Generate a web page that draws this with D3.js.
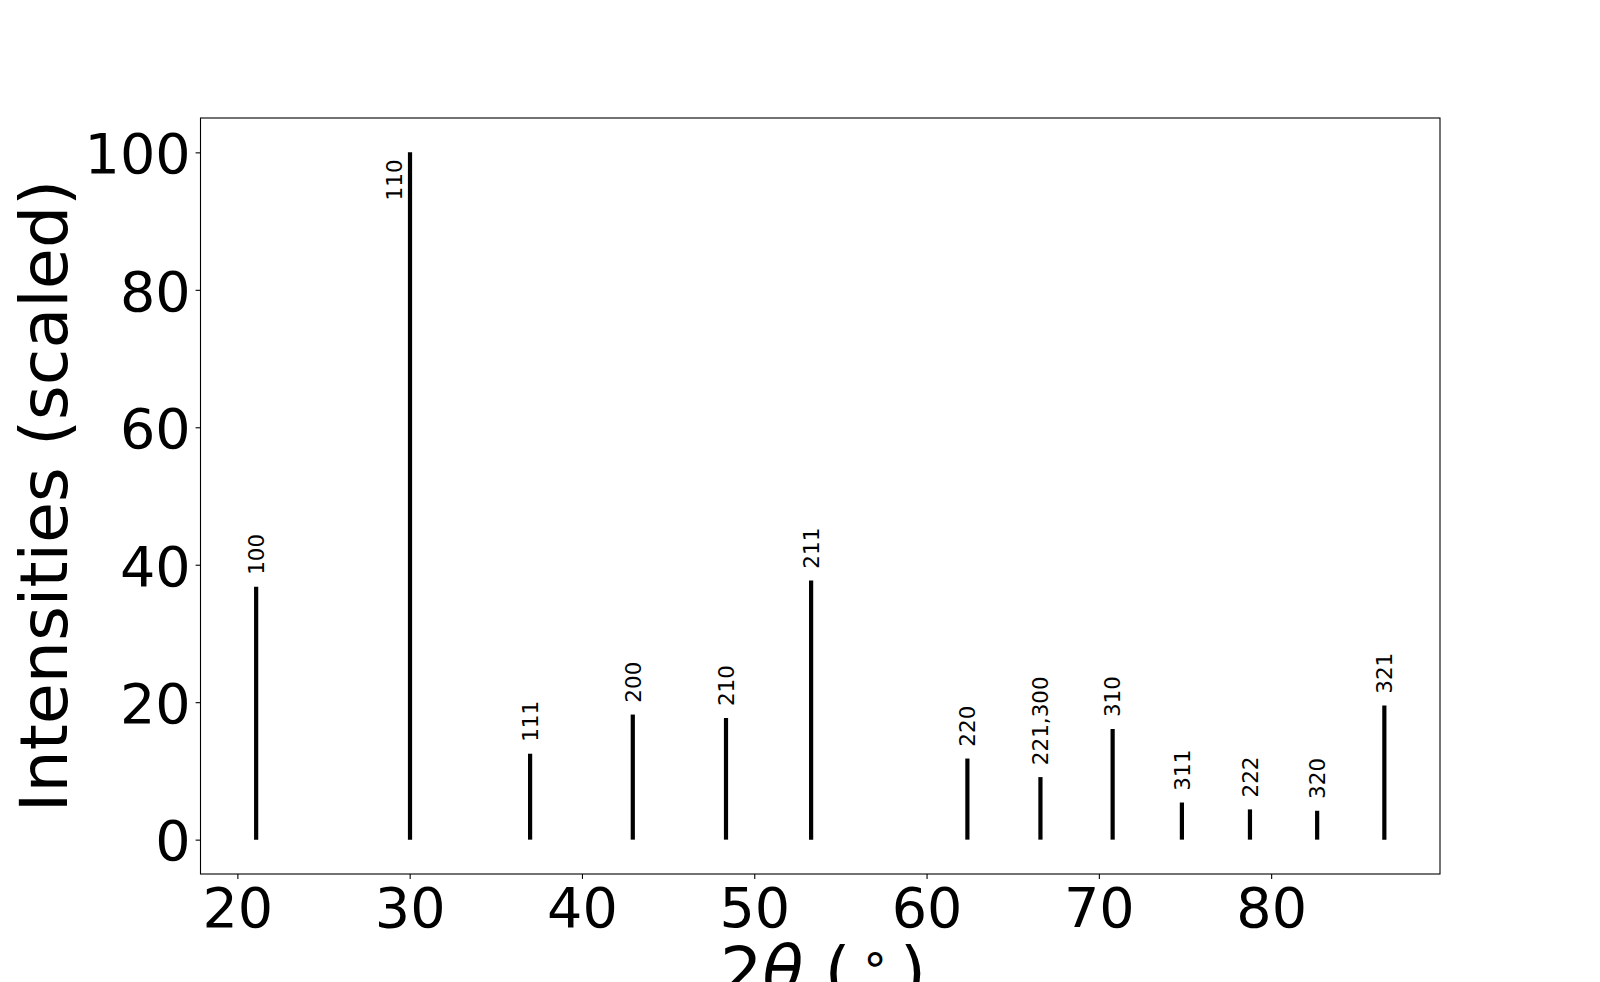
<!DOCTYPE html>
<html>
<head>
<meta charset="utf-8">
<script src="https://cdn.jsdelivr.net/npm/d3@7"></script>
<style>
  html, body { margin: 0; padding: 0; background: #fff; overflow: hidden; }
  svg { display: block; font-family: "DejaVu Sans", sans-serif; }
</style>
</head>
<body>
<svg id="chart" width="1600" height="982"></svg>
<script>
// Peak data (2θ positions, scaled intensities, Miller indices)
const peakLabels = ["100", "110", "111", "200", "210", "211", "220", "221,300", "310", "311", "222", "320", "321"];
const peakPositions = [21.09, 30.02, 36.99, 42.95, 48.36, 53.30, 62.37, 66.61, 70.80, 74.82, 78.77, 82.67, 86.57];
const peakIntensities = [36.8, 100, 12.5, 18.2, 17.7, 37.7, 11.8, 9.1, 16.1, 5.4, 4.4, 4.2, 19.5];
const xTicks = [20, 30, 40, 50, 60, 70, 80];
const yTicks = [0, 20, 40, 60, 80, 100];

const svg = d3.select("#chart");
svg.append("rect").attr("width", 1600).attr("height", 982).attr("fill", "#fff");

const L = 200.5, R = 1440, T = 118, B = 874;
const x = d3.scaleLinear().domain([17.86, 89.8]).range([L, R]);
const y = d3.scaleLinear().domain([-5, 105]).range([B, T]);

const tickFont = 55.6;
const peakFont = 21.5;

// Peaks
const peaks = peakLabels.map((lab, i) => ({ lab, pos: peakPositions[i], val: peakIntensities[i] }));
svg.append("g").selectAll("line").data(peaks).join("line")
  .attr("x1", d => x(d.pos)).attr("x2", d => x(d.pos))
  .attr("y1", y(0)).attr("y2", d => y(d.val))
  .attr("stroke", "#000").attr("stroke-width", 4.2);

// Peak labels
svg.append("g").selectAll("text").data(peaks).join("text")
  .attr("transform", d => {
    if (d.val > 90) {
      return `translate(${x(d.pos) - 8.3},${y(d.val) + 7}) rotate(-90)`;
    }
    return `translate(${x(d.pos) + 0.365 * peakFont},${y(d.val + 1) - 5}) rotate(-90)`;
  })
  .attr("text-anchor", d => d.val > 90 ? "end" : "start")
  .attr("font-size", peakFont)
  .attr("fill", "#000")
  .text(d => d.lab);

// Axes frame
svg.append("rect").attr("x", L).attr("y", T).attr("width", R - L).attr("height", B - T)
  .attr("fill", "none").attr("stroke", "#000").attr("stroke-width", 1.1);

// X axis
const xAxis = d3.axisBottom(x).tickValues(xTicks).tickSize(4.9).tickPadding(4.9).tickFormat(d3.format("d"));
const gx = svg.append("g").attr("transform", `translate(0,${B})`).call(xAxis);
gx.select(".domain").remove();
gx.selectAll(".tick line").attr("stroke", "#000").attr("stroke-width", 1.1);
gx.selectAll(".tick text").attr("font-size", tickFont).attr("font-family", "DejaVu Sans")
  .attr("fill", "#000").attr("y", 926.7 - B).attr("dy", null);

// Y axis
const yAxis = d3.axisLeft(y).tickValues(yTicks).tickSize(4.9).tickPadding(4.9).tickFormat(d3.format("d"));
const gy = svg.append("g").attr("transform", `translate(${L},0)`).call(yAxis);
gy.select(".domain").remove();
gy.selectAll(".tick line").attr("stroke", "#000").attr("stroke-width", 1.1);
gy.selectAll(".tick text").attr("font-size", tickFont).attr("font-family", "DejaVu Sans")
  .attr("fill", "#000").attr("dy", "0.365em");

// Y label
svg.append("text")
  .attr("transform", `translate(66.7,${(T + B) / 2}) rotate(-90)`)
  .attr("text-anchor", "middle")
  .attr("font-size", 66.7)
  .attr("fill", "#000")
  .text("Intensities (scaled)");

// X label: 2θ (°)
const xl = svg.append("text")
  .attr("x", 720).attr("y", 993.6)
  .attr("font-size", 66.7)
  .attr("fill", "#000");
xl.append("tspan").text("2");
xl.append("tspan").attr("font-style", "italic").text("θ");
xl.append("tspan").text(" (");
xl.append("tspan").attr("font-size", 47).attr("dx", 10).attr("dy", -20).text("∘");
xl.append("tspan").attr("dx", 10).attr("dy", 20).text(")");
</script>
</body>
</html>
